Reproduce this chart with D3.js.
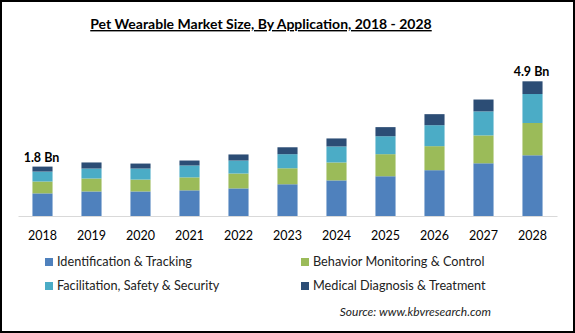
<!DOCTYPE html>
<html>
<head>
<meta charset="utf-8">
<script src="https://cdn.jsdelivr.net/npm/d3@7"></script>
<style>
  body { margin: 0; background: #fff; }
  text { font-family: Lato, "Open Sans", sans-serif; }
</style>
</head>
<body>
<svg id="chart"></svg>
<script>
// data (USD Bn)
const years = ["2018","2019","2020","2021","2022","2023","2024","2025","2026","2027","2028"];
const series = ["Identification & Tracking", "Behavior Monitoring & Control",
                "Facilitation, Safety & Security", "Medical Diagnosis & Treatment"];
const identification = [0.82, 0.89, 0.89, 0.93, 1.00, 1.15, 1.29, 1.44, 1.66, 1.91, 2.20];
const behavior       = [0.43, 0.47, 0.43, 0.47, 0.54, 0.58, 0.65, 0.80, 0.87, 1.01, 1.17];
const facilitation   = [0.36, 0.36, 0.40, 0.43, 0.47, 0.51, 0.58, 0.65, 0.76, 0.87, 1.05];
const medical        = [0.18, 0.22, 0.18, 0.18, 0.22, 0.25, 0.29, 0.33, 0.40, 0.43, 0.46];
const colors = ["#4f81bd", "#9bbb59", "#4bacc6", "#2c4d75"];
const endLabels = [{ year: "2018", text: "1.8 Bn" }, { year: "2028", text: "4.9 Bn" }];

const W = 575, H = 333;
const svg = d3.select("#chart").attr("width", W).attr("height", H);

// outer frame
svg.append("rect")
  .attr("x", 1).attr("y", 1).attr("width", W - 2).attr("height", H - 2)
  .attr("fill", "#fff").attr("stroke", "#000").attr("stroke-width", 2);

// title
svg.append("text")
  .attr("x", 261).attr("y", 29)
  .attr("text-anchor", "middle")
  .attr("font-size", 14).attr("font-weight", "bold")
  .attr("text-decoration", "underline")
  .text("Pet Wearable Market Size, By Application, 2018 - 2028");

// build table for stack
const table = years.map((y, i) => ({
  year: y,
  [series[0]]: identification[i],
  [series[1]]: behavior[i],
  [series[2]]: facilitation[i],
  [series[3]]: medical[i]
}));
const stacked = d3.stack().keys(series)(table);

const x = d3.scaleBand().domain(years).range([18, 557]).paddingInner(0.59).paddingOuter(0.295);
const y = d3.scaleLinear().domain([0, 5]).range([216, 78]);

// bars
svg.append("g").selectAll("g")
  .data(stacked)
  .join("g")
    .attr("fill", (d, i) => colors[i])
  .selectAll("rect")
  .data(d => d)
  .join("rect")
    .attr("x", d => x(d.data.year))
    .attr("y", d => y(d[1]))
    .attr("width", x.bandwidth())
    .attr("height", d => y(d[0]) - y(d[1]));

// x axis
const xAxis = svg.append("g")
  .attr("transform", "translate(0,216)")
  .call(d3.axisBottom(x).tickSize(0).tickPadding(15));
xAxis.select(".domain").attr("stroke", "#d9d9d9");
xAxis.selectAll("text")
  .attr("font-family", "Lato, sans-serif")
  .attr("font-size", 12.5)
  .attr("fill", "#000");

// total labels
const totals = table.map(d => series.reduce((s, k) => s + d[k], 0));
svg.selectAll(".endlabel")
  .data(endLabels)
  .join("text")
    .attr("class", "endlabel")
    .attr("x", d => x(d.year) + x.bandwidth() / 2 - 1)
    .attr("y", d => y(totals[years.indexOf(d.year)]) - 5)
    .attr("text-anchor", "middle")
    .attr("font-size", 12.5).attr("font-weight", "bold")
    .text(d => d.text);

// legend
const legendPos = [[45, 262], [301, 262], [45, 286], [301, 286]];
const legend = svg.append("g").selectAll("g")
  .data(series)
  .join("g")
    .attr("transform", (d, i) => `translate(${legendPos[i][0]},${legendPos[i][1]})`);
legend.append("rect")
  .attr("x", 0).attr("y", -4).attr("width", 8).attr("height", 8)
  .attr("fill", (d, i) => colors[i]);
legend.append("text")
  .attr("x", 12).attr("y", 0).attr("dy", "0.35em")
  .attr("font-size", 12.7).attr("fill", "#222")
  .text(d => d);

// source
svg.append("text")
  .attr("x", 491).attr("y", 316)
  .attr("text-anchor", "end")
  .attr("font-size", 12).attr("font-style", "italic")
  .attr("fill", "#222")
  .text("Source:  www.kbvresearch.com");
</script>
</body>
</html>
